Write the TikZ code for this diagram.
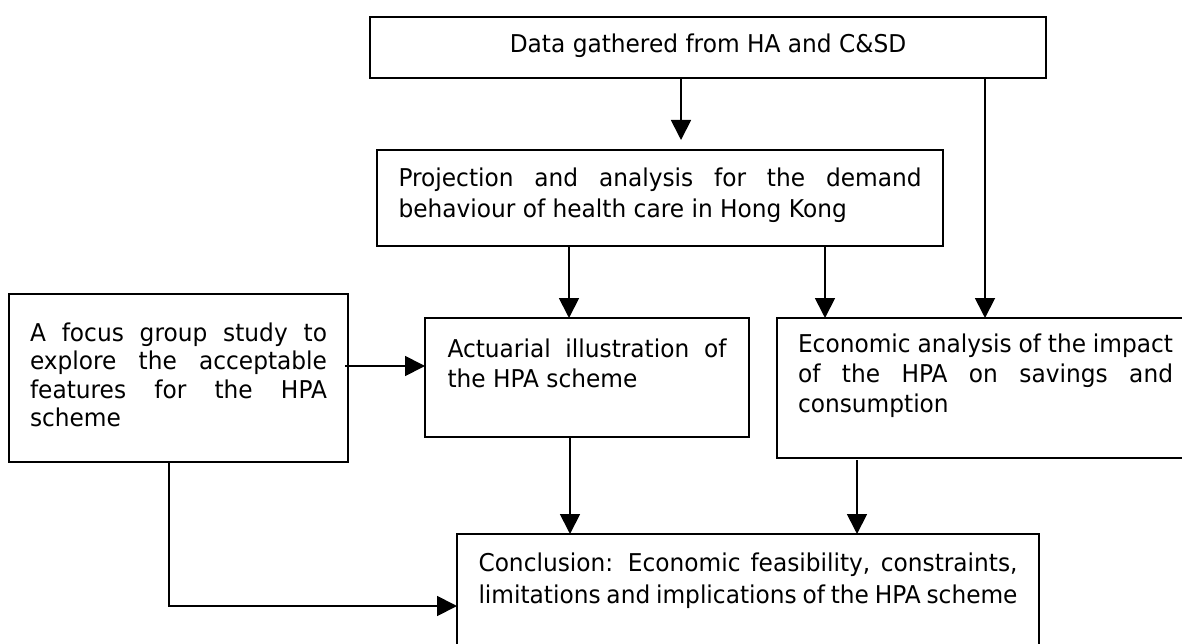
\documentclass[tikz,border=0pt]{standalone}
\usepackage{fontspec}
\setmainfont{DejaVu Sans}[FakeStretch=0.95]
\usetikzlibrary{arrows.meta}
\newcommand{\bxt}[4]{\parbox[c][#2][t]{#1}{\fontsize{24.5pt}{#3}\selectfont\parskip=0pt\parindent=0pt\hbadness=10000\hfuzz=50pt #4}}
\newcommand{\jline}[1]{\makebox[\linewidth][s]{#1}\par}
\newcommand{\lastln}[1]{\mbox{#1}\par}
\begin{document}
\begin{tikzpicture}[x=1pt,y=-1pt,
  box/.style={draw, line width=2.4pt, anchor=north west, inner sep=0pt, outer sep=0pt},
  arr/.style={line width=1.8pt, -{Triangle[length=20pt,width=20pt]}}]
\useasboundingbox (0,0) rectangle (1182,644);
\clip (0,0) rectangle (1182,644);
\node[box, minimum width=676pt, minimum height=61pt] (data) at (370,17)
  {\bxt{634pt}{61pt}{30pt}{\centering\rule{0pt}{36pt}Data gathered from HA and C\&SD\par}};
\node[box, minimum width=566pt, minimum height=96pt] (proj) at (377,150)
  {\bxt{523pt}{96pt}{30.5pt}{\jline{\rule{0pt}{37pt}Projection and analysis for the demand}\lastln{behaviour of health care in Hong Kong}}};
\node[box, minimum width=339pt, minimum height=168pt] (focus) at (9,294)
  {\bxt{297pt}{168pt}{28.5pt}{\jline{\rule{0pt}{47pt}A focus group study to}\jline{explore the acceptable}\jline{features for the HPA}\lastln{scheme}}};
\node[box, minimum width=324pt, minimum height=119pt] (act) at (425,318)
  {\bxt{279pt}{119pt}{30pt}{\jline{\rule{0pt}{39pt}Actuarial illustration of}\lastln{the HPA scheme}}};
\node[box, minimum width=417pt, minimum height=140pt] (econ) at (777,318)
  {\bxt{375pt}{140pt}{30pt}{\jline{\rule{0pt}{34pt}Economic analysis of the impact}\jline{of the HPA on savings and}\lastln{consumption}}};
\node[box, minimum width=582pt, minimum height=130pt] (concl) at (457,534)
  {\bxt{539pt}{130pt}{32pt}{\jline{\rule{0pt}{37pt}Conclusion: Economic feasibility, constraints,}\jline{limitations and implications of the HPA scheme}}};
\coordinate (a1) at (681,140);
\coordinate (a2) at (985,0);
\coordinate (a3) at (569,0);
\coordinate (a4) at (825,0);
\coordinate (a5) at (0,366);
\coordinate (a6) at (570,0);
\coordinate (a7) at (857,0);
\coordinate (a8) at (169,0);
\coordinate (a9) at (0,606);
\draw[arr] (data.south -| a1) -- (a1);
\draw[arr] (data.south -| a2) -- (econ.north -| a2);
\draw[arr] (proj.south -| a3) -- (act.north -| a3);
\draw[arr] (proj.south -| a4) -- (econ.north -| a4);
\draw[arr] ([xshift=-3pt]focus.east |- a5) -- (act.west |- a5);
\draw[arr] (act.south -| a6) -- (concl.north -| a6);
\draw[arr] ([yshift=-2pt]econ.south -| a7) -- (concl.north -| a7);
\draw[arr] (focus.south -| a8) |- (concl.west |- a9);
\end{tikzpicture}
\end{document}
